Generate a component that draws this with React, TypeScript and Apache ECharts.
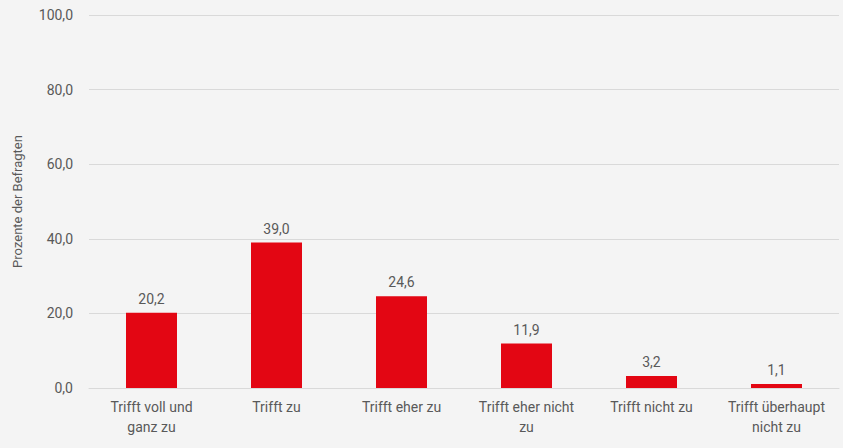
import React, { useEffect, useRef } from "react";
import * as echarts from "echarts";

const categories = [
  "Trifft voll und\nganz zu",
  "Trifft zu",
  "Trifft eher zu",
  "Trifft eher nicht\nzu",
  "Trifft nicht zu",
  "Trifft überhaupt\nnicht zu",
];
const values = [20.2, 39.0, 24.6, 11.9, 3.2, 1.1];
const yTicks = [0, 20, 40, 60, 80, 100];

const fmt = (v: number) => v.toFixed(1).replace(".", ",");

export default function App() {
  const ref = useRef<HTMLDivElement>(null);
  useEffect(() => {
    document.body.style.margin = "0";
    const chart = echarts.init(ref.current!, null, { renderer: "svg" });
    const font = "Roboto, 'Noto Sans', sans-serif";
    chart.setOption({
      animation: false,
      backgroundColor: "#f4f4f4",
      textStyle: { fontFamily: font },
      grid: { left: 89, right: 4, top: 15, bottom: 60, containLabel: false },
      xAxis: {
        type: "category",
        data: categories,
        axisLine: { show: true, lineStyle: { color: "#d9d9d9", width: 1 } },
        axisTick: { show: false },
        axisLabel: {
          color: "#595959",
          fontSize: 14,
          fontFamily: font,
          lineHeight: 20,
          margin: 9,
          interval: 0,
        },
      },
      yAxis: {
        type: "value",
        min: yTicks[0],
        max: yTicks[yTicks.length - 1],
        interval: 20,
        name: "Prozente der Befragten",
        nameLocation: "middle",
        nameGap: 65,
        nameRotate: 90,
        nameTextStyle: { color: "#595959", fontSize: 13, fontFamily: font },
        axisLine: { show: false },
        axisTick: { show: false },
        axisLabel: {
          color: "#595959",
          fontSize: 14,
          fontFamily: font,
          margin: 16,
          formatter: (v: number) => fmt(v),
        },
        splitLine: { lineStyle: { color: "#d9d9d9", width: 1 } },
      },
      series: [
        {
          type: "bar",
          data: values,
          barWidth: 51,
          itemStyle: { color: "#e30613" },
          label: {
            show: true,
            position: "top",
            distance: 7,
            color: "#595959",
            fontSize: 14,
            fontFamily: font,
            formatter: (p: any) => fmt(p.value),
          },
        },
      ],
    });
    return () => chart.dispose();
  }, []);
  return (
    <div
      ref={ref}
      style={{ position: "fixed", left: 0, top: 0, width: 843, height: 448 }}
    />
  );
}
